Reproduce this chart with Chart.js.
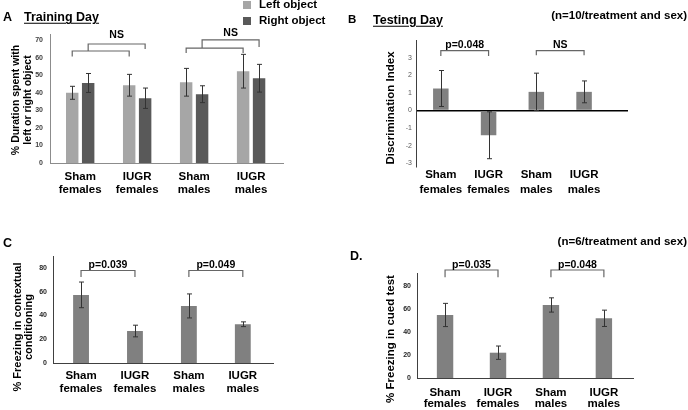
<!DOCTYPE html>
<html>
<head>
<meta charset="utf-8">
<script src="https://cdn.jsdelivr.net/npm/chart.js@4.4.1/dist/chart.umd.min.js"></script>
<style>
  body { margin: 0; background: #fff; }
  #fig { position: relative; width: 688px; height: 410px; overflow: hidden;
         font-family: "Liberation Sans", Arial, sans-serif; font-weight: bold; color: #000; }
  #fig canvas { position: absolute; }
  .txt { position: absolute; white-space: nowrap; line-height: 1; transform: translateY(-50%); }
  .right { transform: translate(-100%, -50%); }
  .ytitle { position: absolute; white-space: nowrap; text-align: center;
            transform: translate(-50%, -50%) rotate(-90deg); }
  .u { text-decoration: underline; text-underline-offset: 2px; }
  .sq { position: absolute; width: 8px; height: 8px; }
</style>
</head>
<body>
<div id="fig">
  <canvas id="chartA" width="300" height="200" style="left:0;top:0"></canvas>
  <canvas id="chartB" width="388" height="200" style="left:300px;top:0"></canvas>
  <canvas id="chartC" width="340" height="210" style="left:0;top:200px"></canvas>
  <canvas id="chartD" width="348" height="210" style="left:340px;top:200px"></canvas>

  <div class="txt" style="left:3px;top:17px;font-size:12.5px">A</div>
  <div class="txt u" style="left:24px;top:17px;font-size:12.5px">Training Day</div>
  <div class="sq" id="legLeft" style="left:243px;top:1px"></div>
  <div class="txt" style="left:259px;top:5px;font-size:11.5px">Left object</div>
  <div class="sq" id="legRight" style="left:243px;top:17px"></div>
  <div class="txt" style="left:259px;top:20.5px;font-size:11.5px">Right object</div>

  <div class="txt" style="left:348px;top:19.5px;font-size:11.5px">B</div>
  <div class="txt u" style="left:373px;top:19.5px;font-size:12.5px">Testing Day</div>
  <div class="txt right" style="left:687px;top:15.5px;font-size:11.5px">(n=10/treatment and sex)</div>

  <div class="txt" style="left:3px;top:243px;font-size:12.5px">C</div>
  <div class="txt" style="left:350px;top:256px;font-size:12.5px">D.</div>
  <div class="txt right" style="left:687px;top:242px;font-size:11.5px">(n=6/treatment and sex)</div>

  <div class="ytitle" style="left:21px;top:99.5px;font-size:10.5px;line-height:12px">% Duration spent with<br>left or right object</div>
  <div class="ytitle" style="left:390px;top:107.5px;font-size:11.5px;line-height:12px">Discrimination Index</div>
  <div class="ytitle" style="left:22.5px;top:327px;font-size:11px;line-height:11px">% Freezing in contextual<br>conditioning</div>
  <div class="ytitle" style="left:390px;top:339px;font-size:11.5px;line-height:12px">% Freezing in cued test</div>
</div>

<script>
const fontFamily = '"Liberation Sans", Arial, sans-serif';
Chart.defaults.font.family = fontFamily;

const groupLabels = [['Sham', 'females'], ['IUGR', 'females'], ['Sham', 'males'], ['IUGR', 'males']];
const groupPos = [0, 1, 2, 3];

// A - training day, % time with each object (mean, +/- error)
const trainLeft = [40.0, 44.3, 46.0, 52.3];
const trainLeftErr = [3.7, 6.2, 7.9, 9.6];
const trainRight = [45.6, 36.9, 39.2, 48.3];
const trainRightErr = [5.4, 5.8, 4.8, 7.9];

// B - testing day discrimination index
const discIndex = [1.25, -1.40, 1.06, 1.06];
const discIndexErr = [1.02, 1.33, 1.06, 0.62];

// C - contextual conditioning freezing
const freezeContext = [57.3, 26.9, 48.0, 32.6];
const freezeContextErr = [10.8, 4.9, 10.1, 2.0];

// D - cued test freezing
const freezeCued = [54.8, 22.0, 63.5, 51.9];
const freezeCuedErr = [10.1, 5.8, 6.2, 7.1];

// y tick labels
const ticksA = [0, 10, 20, 30, 40, 50, 60, 70];
const ticksB = [-3, -2, -1, 0, 1, 2, 3];
const ticksFreeze = [0, 20, 40, 60, 80];

const colorLeft = '#a6a6a6';
const colorRight = '#595959';
const colorBar = '#808080';

// significance brackets, in data units (ds/from/to pick the bars)
const bracketsA = [
  { ds: 0, from: 0, to: 1, y: 63.8, legs: [60.7, 60.7] },
  { ds: 1, from: 0, to: 1, y: 67.8, legs: [63.8, 65.0], text: 'NS', textY: 72.9 },
  { ds: 0, from: 2, to: 3, y: 65.5, legs: [62.7, 62.7] },
  { ds: 1, from: 2, to: 3, y: 70.1, legs: [65.5, 66.1], text: 'NS', textY: 74.1 }
];
const bracketsB = [
  { ds: 0, from: 0, to: 1, y: 3.40, legs: [3.10, 3.10], text: 'p=0.048', textY: 3.72 },
  { ds: 0, from: 2, to: 3, y: 3.40, legs: [3.13, 3.13], text: 'NS', textY: 3.72 }
];
const bracketsC = [
  { ds: 0, from: 0, to: 1, y: 77.8, legs: [72.4, 72.4], text: 'p=0.039', textY: 82.4 },
  { ds: 0, from: 2, to: 3, y: 77.8, legs: [72.4, 72.4], text: 'p=0.049', textY: 82.4 }
];
const bracketsD = [
  { ds: 0, from: 0, to: 1, y: 93.9, legs: [87.6, 87.6], text: 'p=0.035', textY: 98.3 },
  { ds: 0, from: 2, to: 3, y: 93.9, legs: [87.6, 87.6], text: 'p=0.048', textY: 98.3 }
];

const errorBars = {
  id: 'errorBars',
  afterDatasetsDraw(chart) {
    const { ctx, scales: { y } } = chart;
    ctx.save();
    ctx.strokeStyle = '#333';
    ctx.lineWidth = 1;
    chart.data.datasets.forEach((ds, di) => {
      chart.getDatasetMeta(di).data.forEach((bar, i) => {
        const x = Math.round(bar.x) + 0.5;
        const hi = y.getPixelForValue(ds.data[i] + ds.errors[i]);
        const lo = y.getPixelForValue(ds.data[i] - ds.errors[i]);
        ctx.beginPath();
        ctx.moveTo(x, hi); ctx.lineTo(x, lo);
        ctx.moveTo(x - 2.5, hi); ctx.lineTo(x + 2.5, hi);
        ctx.moveTo(x - 2.5, lo); ctx.lineTo(x + 2.5, lo);
        ctx.stroke();
      });
    });
    ctx.restore();
  }
};

function bracketPlugin(items) {
  return {
    id: 'brackets',
    afterDatasetsDraw(chart) {
      const { ctx, scales: { y } } = chart;
      ctx.save();
      ctx.strokeStyle = '#666';
      ctx.lineWidth = 1.2;
      ctx.fillStyle = '#000';
      ctx.font = 'bold 10.5px ' + fontFamily;
      ctx.textAlign = 'center';
      ctx.textBaseline = 'middle';
      items.forEach(b => {
        const bars = chart.getDatasetMeta(b.ds).data;
        const x1 = bars[b.from].x, x2 = bars[b.to].x;
        const top = y.getPixelForValue(b.y);
        ctx.beginPath();
        ctx.moveTo(x1, y.getPixelForValue(b.legs[0]));
        ctx.lineTo(x1, top);
        ctx.lineTo(x2, top);
        ctx.lineTo(x2, y.getPixelForValue(b.legs[1]));
        ctx.stroke();
        if (b.text) ctx.fillText(b.text, (x1 + x2) / 2, y.getPixelForValue(b.textY));
      });
      ctx.restore();
    }
  };
}

function barChart(id, o) {
  return new Chart(document.getElementById(id), {
    type: 'bar',
    data: { labels: groupPos, datasets: o.datasets },
    options: {
      responsive: false,
      animation: false,
      layout: { padding: o.pad },
      datasets: { bar: { categoryPercentage: o.catPct, barPercentage: o.barPct } },
      plugins: { legend: { display: false }, tooltip: { enabled: false } },
      scales: {
        x: {
          type: 'linear',
          min: o.xMin,
          max: o.xMax,
          offset: false,
          afterBuildTicks: s => { s.ticks = groupPos.map(v => ({ value: v })); },
          afterFit: s => { s.height = o.xHeight; },
          grid: { display: false, drawTicks: false },
          border: { display: !o.zeroLine, color: o.axisColor, width: 1 },
          ticks: {
            autoSkip: false, maxRotation: 0, minRotation: 0,
            padding: o.labelPad, color: '#000',
            font: { size: 11.5, weight: 'bold', lineHeight: o.labelLine },
            callback: v => groupLabels[v]
          }
        },
        y: {
          min: o.yMin,
          max: o.yMax,
          afterBuildTicks: s => { s.ticks = o.yTicks.map(v => ({ value: v })); },
          afterFit: s => { s.width = o.yWidth; },
          grid: o.zeroLine
            ? { drawTicks: false, lineWidth: 1.5,
                color: c => (c.tick && c.tick.value === 0) ? '#000' : 'rgba(0,0,0,0)' }
            : { display: false, drawTicks: false },
          border: { color: o.axisColor, width: 1 },
          ticks: { padding: o.tickPad, color: o.tickColor, font: { size: 7, weight: o.tickWeight } }
        }
      }
    },
    plugins: [errorBars, bracketPlugin(o.brackets)]
  });
}

barChart('chartA', {
  datasets: [
    { label: 'Left object', data: trainLeft, errors: trainLeftErr, backgroundColor: colorLeft },
    { label: 'Right object', data: trainRight, errors: trainRightErr, backgroundColor: colorRight }
  ],
  brackets: bracketsA,
  pad: { left: 0, top: 34, right: 17, bottom: 0 },
  yWidth: 50, xHeight: 37,
  xMin: -0.53, xMax: 3.56, yMin: 0, yMax: 73.5, yTicks: ticksA,
  catPct: 0.56, barPct: 0.78,
  axisColor: '#8c8c8c', tickColor: '#404040', tickWeight: 'bold', tickPad: 7,
  labelPad: 7, labelLine: 1.16
});

barChart('chartB', {
  datasets: [{ label: 'Discrimination Index', data: discIndex, errors: discIndexErr, backgroundColor: colorBar }],
  brackets: bracketsB,
  pad: { left: 0, top: 40, right: 60, bottom: 0 },
  yWidth: 116, xHeight: 33, zeroLine: true,
  xMin: -0.52, xMax: 3.92, yMin: -3.2, yMax: 4, yTicks: ticksB,
  catPct: 0.65, barPct: 0.5,
  axisColor: '#404040', tickColor: '#595959', tickWeight: 'normal', tickPad: 4,
  labelPad: 0, labelLine: 1.3
});

barChart('chartC', {
  datasets: [{ label: '% Freezing in contextual conditioning', data: freezeContext, errors: freezeContextErr, backgroundColor: colorBar }],
  brackets: bracketsC,
  pad: { left: 0, top: 56, right: 67, bottom: 0 },
  yWidth: 53, xHeight: 47,
  xMin: -0.52, xMax: 3.56, yMin: 0, yMax: 90, yTicks: ticksFreeze,
  catPct: 0.6, barPct: 0.49,
  axisColor: '#404040', tickColor: '#262626', tickWeight: 'bold', tickPad: 6,
  labelPad: 6, labelLine: 1.16
});

barChart('chartD', {
  datasets: [{ label: '% Freezing in cued test', data: freezeCued, errors: freezeCuedErr, backgroundColor: colorBar }],
  brackets: bracketsD,
  pad: { left: 0, top: 73, right: 55, bottom: 0 },
  yWidth: 77, xHeight: 32,
  xMin: -0.53, xMax: 3.55, yMin: 0, yMax: 91.3, yTicks: ticksFreeze,
  catPct: 0.62, barPct: 0.5,
  axisColor: '#404040', tickColor: '#262626', tickWeight: 'bold', tickPad: 6,
  labelPad: 9, labelLine: 0.98
});

document.getElementById('legLeft').style.background = colorLeft;
document.getElementById('legRight').style.background = colorRight;
</script>
</body>
</html>
